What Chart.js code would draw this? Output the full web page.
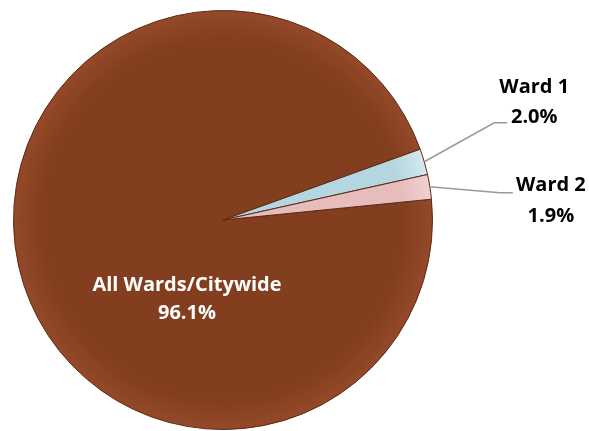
<!DOCTYPE html>
<html>
<head>
<meta charset="utf-8">
<script src="https://cdn.jsdelivr.net/npm/chart.js@4.4.0/dist/chart.umd.min.js"></script>
<style>
  html, body { margin: 0; padding: 0; background: #fff; }
  #wrap { width: 589px; height: 431px; }
</style>
</head>
<body>
<div id="wrap"><canvas id="chart" width="589" height="431"></canvas></div>
<script>
// data
const categories = ['All Wards/Citywide', 'Ward 1', 'Ward 2'];
const shares = [96.1, 2.0, 1.9];
const pctLabels = ['96.1%', '2.0%', '1.9%'];

// slice fills: [inner, outer] of a radial gradient
const fills = [
  ['#823e1e', '#94492a'],
  ['#b4d6e1', '#d4e9ef'],
  ['#e6bcbc', '#f0d2d2'],
];

// label placement, relative to the anchor on each slice
const labelStyle = [
  { inside: true, dx: -36, dy: 65 },
  { elbowDx: 70, elbowDy: -39, tail: 13, textDx: 27, nameDy: -35, pctDy: -5 },
  { elbowDx: 70, elbowDy: 6, tail: 13, textDx: 38, nameDy: -7, pctDy: 24 },
];

const labelPlugin = {
  id: 'sliceLabels',
  afterDatasetsDraw(chart) {
    const ctx = chart.ctx;
    const arcs = chart.getDatasetMeta(0).data;
    ctx.save();
    ctx.font = 'bold 20px "Open Sans", sans-serif';
    ctx.textAlign = 'center';
    ctx.textBaseline = 'middle';
    arcs.forEach((arc, i) => {
      const s = labelStyle[i];
      if (s.inside) {
        ctx.fillStyle = '#ffffff';
        ctx.fillText(categories[i], arc.x + s.dx, arc.y + s.dy);
        ctx.fillText(pctLabels[i], arc.x + s.dx, arc.y + s.dy + 28);
        return;
      }
      const mid = (arc.startAngle + arc.endAngle) / 2;
      const ax = arc.x + Math.cos(mid) * arc.outerRadius;
      const ay = arc.y + Math.sin(mid) * arc.outerRadius;
      const ex = ax + s.elbowDx, ey = ay + s.elbowDy;
      ctx.strokeStyle = '#9a9a9a';
      ctx.lineWidth = 1.5;
      ctx.beginPath();
      ctx.moveTo(ax, ay);
      ctx.lineTo(ex, ey);
      ctx.lineTo(ex + s.tail, ey);
      ctx.stroke();
      ctx.fillStyle = '#000000';
      const tx = ex + s.tail + s.textDx;
      ctx.fillText(categories[i], tx, ey + s.nameDy);
      ctx.fillText(pctLabels[i], tx, ey + s.pctDy);
    });
    ctx.restore();
  }
};

function sliceFill(c) {
  const chart = c.chart;
  const area = chart.chartArea;
  if (!area) return fills[c.dataIndex][0];
  const cx = (area.left + area.right) / 2, cy = (area.top + area.bottom) / 2;
  const r = Math.min(area.right - area.left, area.bottom - area.top) / 2;
  const g = chart.ctx.createRadialGradient(cx, cy, 0, cx, cy, r);
  g.addColorStop(0, fills[c.dataIndex][0]);
  g.addColorStop(0.85, fills[c.dataIndex][0]);
  g.addColorStop(1, fills[c.dataIndex][1]);
  return g;
}

new Chart(document.getElementById('chart'), {
  type: 'pie',
  data: {
    labels: categories,
    datasets: [{
      data: shares,
      backgroundColor: sliceFill,
      borderColor: '#5b2a12',
      borderWidth: 1,
    }],
  },
  options: {
    responsive: false,
    animation: false,
    rotation: 84.3,
    layout: { padding: { left: 12, top: 10, right: 155, bottom: 1 } },
    plugins: {
      legend: { display: false },
      tooltip: { enabled: false },
    },
    events: [],
  },
  plugins: [labelPlugin],
});
</script>
</body>
</html>
